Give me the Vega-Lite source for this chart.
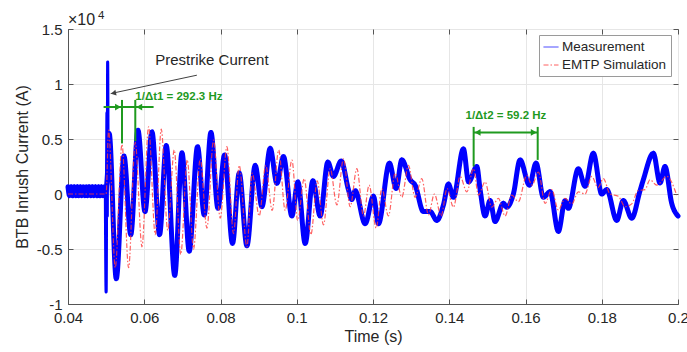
{
  "$schema": "https://vega.github.io/schema/vega-lite/v6.json",
  "width": 610,
  "height": 275,
  "autosize": {"type": "none"},
  "padding": {"left": 68, "top": 29, "right": 9, "bottom": 48},
  "background": "white",
  "config": {
    "font": "Liberation Sans",
    "view": {"stroke": "#555555", "strokeWidth": 1},
    "axis": {
      "labelFont": "Liberation Sans", "titleFont": "Liberation Sans",
      "labelFontSize": 15, "titleFontSize": 16, "labelColor": "#262626", "titleColor": "#262626",
      "titleFontWeight": "normal", "gridColor": "#e6e6e6", "gridWidth": 1,
      "domainColor": "#555555", "tickColor": "#555555"
    }
  },
  "datasets": {
    "meas": [
      {"series":"Measurement","part":"band","time":0.0400,"current":0.065},
      {"series":"Measurement","part":"band","time":0.0404,"current":-0.015},
      {"series":"Measurement","part":"band","time":0.0408,"current":0.065},
      {"series":"Measurement","part":"band","time":0.0412,"current":-0.015},
      {"series":"Measurement","part":"band","time":0.0416,"current":0.065},
      {"series":"Measurement","part":"band","time":0.0420,"current":-0.015},
      {"series":"Measurement","part":"band","time":0.0424,"current":0.065},
      {"series":"Measurement","part":"band","time":0.0428,"current":-0.015},
      {"series":"Measurement","part":"band","time":0.0432,"current":0.065},
      {"series":"Measurement","part":"band","time":0.0436,"current":-0.015},
      {"series":"Measurement","part":"band","time":0.0440,"current":0.065},
      {"series":"Measurement","part":"band","time":0.0444,"current":-0.015},
      {"series":"Measurement","part":"band","time":0.0448,"current":0.065},
      {"series":"Measurement","part":"band","time":0.0452,"current":-0.015},
      {"series":"Measurement","part":"band","time":0.0456,"current":0.065},
      {"series":"Measurement","part":"band","time":0.0460,"current":-0.015},
      {"series":"Measurement","part":"band","time":0.0464,"current":0.065},
      {"series":"Measurement","part":"band","time":0.0468,"current":-0.015},
      {"series":"Measurement","part":"band","time":0.0472,"current":0.065},
      {"series":"Measurement","part":"band","time":0.0476,"current":-0.015},
      {"series":"Measurement","part":"band","time":0.0480,"current":0.065},
      {"series":"Measurement","part":"band","time":0.0484,"current":-0.015},
      {"series":"Measurement","part":"band","time":0.0488,"current":0.065},
      {"series":"Measurement","part":"band","time":0.0492,"current":-0.015},
      {"series":"Measurement","part":"band","time":0.0496,"current":0.065},
      {"series":"Measurement","part":"band","time":0.0498,"current":0.02},
      {"series":"Measurement","part":"spike","time":0.0498,"current":0.02},
      {"series":"Measurement","part":"spike","time":0.0500,"current":-0.89},
      {"series":"Measurement","part":"spike","time":0.05022,"current":0.74},
      {"series":"Measurement","part":"spike","time":0.0503,"current":-0.2},
      {"series":"Measurement","part":"spike","time":0.0504,"current":1.2},
      {"series":"Measurement","part":"spike","time":0.05055,"current":0.15},
      {"series":"Measurement","part":"spike","time":0.05075,"current":0.5},
      {"series":"Measurement","part":"band","time":0.05075,"current":0.5},
      {"series":"Measurement","part":"band","time":0.0508,"current":0.55},
      {"series":"Measurement","part":"band","time":0.05266,"current":-0.77},
      {"series":"Measurement","part":"band","time":0.05468,"current":0.345},
      {"series":"Measurement","part":"band","time":0.05646,"current":-0.37},
      {"series":"Measurement","part":"band","time":0.05835,"current":0.58},
      {"series":"Measurement","part":"band","time":0.06019,"current":-0.16},
      {"series":"Measurement","part":"band","time":0.06202,"current":0.565},
      {"series":"Measurement","part":"band","time":0.06401,"current":-0.37},
      {"series":"Measurement","part":"band","time":0.06577,"current":0.44},
      {"series":"Measurement","part":"band","time":0.068,"current":-0.74},
      {"series":"Measurement","part":"band","time":0.06989,"current":0.375},
      {"series":"Measurement","part":"band","time":0.0718,"current":-0.52},
      {"series":"Measurement","part":"band","time":0.07398,"current":0.43},
      {"series":"Measurement","part":"band","time":0.07573,"current":-0.19},
      {"series":"Measurement","part":"band","time":0.07749,"current":0.56},
      {"series":"Measurement","part":"band","time":0.07933,"current":-0.13},
      {"series":"Measurement","part":"band","time":0.08106,"current":0.355},
      {"series":"Measurement","part":"band","time":0.08315,"current":-0.45},
      {"series":"Measurement","part":"band","time":0.08491,"current":0.19},
      {"series":"Measurement","part":"band","time":0.08693,"current":-0.47},
      {"series":"Measurement","part":"band","time":0.0891,"current":0.26},
      {"series":"Measurement","part":"band","time":0.09086,"current":-0.115},
      {"series":"Measurement","part":"band","time":0.09304,"current":0.415},
      {"series":"Measurement","part":"band","time":0.09479,"current":0.097},
      {"series":"Measurement","part":"band","time":0.09652,"current":0.34},
      {"series":"Measurement","part":"band","time":0.09872,"current":-0.2},
      {"series":"Measurement","part":"band","time":0.1003,"current":0.11},
      {"series":"Measurement","part":"band","time":0.10221,"current":-0.45},
      {"series":"Measurement","part":"band","time":0.10423,"current":0.12},
      {"series":"Measurement","part":"band","time":0.10614,"current":-0.2},
      {"series":"Measurement","part":"band","time":0.10816,"current":0.29},
      {"series":"Measurement","part":"band","time":0.10963,"current":0.16},
      {"series":"Measurement","part":"band","time":0.11165,"current":0.3},
      {"series":"Measurement","part":"band","time":0.11356,"current":0.04},
      {"series":"Measurement","part":"band","time":0.11445,"current":-0.05},
      {"series":"Measurement","part":"band","time":0.11532,"current":0.03},
      {"series":"Measurement","part":"band","time":0.11794,"current":-0.27},
      {"series":"Measurement","part":"band","time":0.12012,"current":-0.02},
      {"series":"Measurement","part":"band","time":0.12143,"current":-0.27},
      {"series":"Measurement","part":"band","time":0.12431,"current":0.28},
      {"series":"Measurement","part":"band","time":0.12607,"current":0.05},
      {"series":"Measurement","part":"band","time":0.12756,"current":0.31},
      {"series":"Measurement","part":"band","time":0.12974,"current":0.13},
      {"series":"Measurement","part":"band","time":0.13105,"current":0.08},
      {"series":"Measurement","part":"band","time":0.13322,"current":-0.16},
      {"series":"Measurement","part":"band","time":0.13498,"current":-0.16},
      {"series":"Measurement","part":"band","time":0.13674,"current":-0.24},
      {"series":"Measurement","part":"band","time":0.13847,"current":-0.1},
      {"series":"Measurement","part":"band","time":0.13978,"current":0.09},
      {"series":"Measurement","part":"band","time":0.1411,"current":-0.03},
      {"series":"Measurement","part":"band","time":0.14371,"current":0.41},
      {"series":"Measurement","part":"band","time":0.14508,"current":0.11},
      {"series":"Measurement","part":"band","time":0.14723,"current":0.25},
      {"series":"Measurement","part":"band","time":0.14809,"current":0.04},
      {"series":"Measurement","part":"band","time":0.1494,"current":-0.2},
      {"series":"Measurement","part":"band","time":0.15071,"current":-0.06},
      {"series":"Measurement","part":"band","time":0.15202,"current":-0.25},
      {"series":"Measurement","part":"band","time":0.1542,"current":-0.085},
      {"series":"Measurement","part":"band","time":0.15509,"current":-0.12},
      {"series":"Measurement","part":"band","time":0.15682,"current":0.0},
      {"series":"Measurement","part":"band","time":0.15858,"current":0.31},
      {"series":"Measurement","part":"band","time":0.16102,"current":0.08},
      {"series":"Measurement","part":"band","time":0.16277,"current":0.28},
      {"series":"Measurement","part":"band","time":0.16469,"current":-0.03},
      {"series":"Measurement","part":"band","time":0.16644,"current":0.02},
      {"series":"Measurement","part":"band","time":0.16862,"current":-0.34},
      {"series":"Measurement","part":"band","time":0.17038,"current":-0.06},
      {"series":"Measurement","part":"band","time":0.17124,"current":-0.13},
      {"series":"Measurement","part":"band","time":0.17386,"current":0.23},
      {"series":"Measurement","part":"band","time":0.17562,"current":0.07},
      {"series":"Measurement","part":"band","time":0.17779,"current":0.37},
      {"series":"Measurement","part":"band","time":0.17999,"current":0.0},
      {"series":"Measurement","part":"band","time":0.18131,"current":0.04},
      {"series":"Measurement","part":"band","time":0.18393,"current":-0.24},
      {"series":"Measurement","part":"band","time":0.18566,"current":-0.06},
      {"series":"Measurement","part":"band","time":0.18786,"current":-0.22},
      {"series":"Measurement","part":"band","time":0.19004,"current":0.03},
      {"series":"Measurement","part":"band","time":0.19091,"current":0.13},
      {"series":"Measurement","part":"band","time":0.19353,"current":0.37},
      {"series":"Measurement","part":"band","time":0.19529,"current":0.1},
      {"series":"Measurement","part":"band","time":0.19659,"current":0.25},
      {"series":"Measurement","part":"band","time":0.19835,"current":-0.085},
      {"series":"Measurement","part":"band","time":0.2,"current":-0.2}
    ],
    "sim": [
      {"series":"EMTP Simulation","part":"sim","time":0.04,"current":0.0},
      {"series":"EMTP Simulation","part":"sim","time":0.0500,"current":0.0},
      {"series":"EMTP Simulation","part":"sim","time":0.05064,"current":0.58},
      {"series":"EMTP Simulation","part":"sim","time":0.0524,"current":-0.67},
      {"series":"EMTP Simulation","part":"sim","time":0.05416,"current":0.45},
      {"series":"EMTP Simulation","part":"sim","time":0.05589,"current":-0.67},
      {"series":"EMTP Simulation","part":"sim","time":0.05764,"current":0.47},
      {"series":"EMTP Simulation","part":"sim","time":0.0594,"current":-0.48},
      {"series":"EMTP Simulation","part":"sim","time":0.06113,"current":0.61},
      {"series":"EMTP Simulation","part":"sim","time":0.06289,"current":-0.37},
      {"series":"EMTP Simulation","part":"sim","time":0.06446,"current":0.59},
      {"series":"EMTP Simulation","part":"sim","time":0.06616,"current":-0.33},
      {"series":"EMTP Simulation","part":"sim","time":0.06787,"current":0.4},
      {"series":"EMTP Simulation","part":"sim","time":0.06957,"current":-0.55},
      {"series":"EMTP Simulation","part":"sim","time":0.07128,"current":0.31},
      {"series":"EMTP Simulation","part":"sim","time":0.07293,"current":-0.5},
      {"series":"EMTP Simulation","part":"sim","time":0.07468,"current":0.32},
      {"series":"EMTP Simulation","part":"sim","time":0.07644,"current":-0.31},
      {"series":"EMTP Simulation","part":"sim","time":0.07817,"current":0.49},
      {"series":"EMTP Simulation","part":"sim","time":0.07993,"current":-0.22},
      {"series":"EMTP Simulation","part":"sim","time":0.08168,"current":0.43},
      {"series":"EMTP Simulation","part":"sim","time":0.08341,"current":-0.36},
      {"series":"EMTP Simulation","part":"sim","time":0.08491,"current":0.26},
      {"series":"EMTP Simulation","part":"sim","time":0.08693,"current":-0.48},
      {"series":"EMTP Simulation","part":"sim","time":0.08832,"current":0.19},
      {"series":"EMTP Simulation","part":"sim","time":0.09015,"current":-0.2},
      {"series":"EMTP Simulation","part":"sim","time":0.09186,"current":0.26},
      {"series":"EMTP Simulation","part":"sim","time":0.09356,"current":-0.15},
      {"series":"EMTP Simulation","part":"sim","time":0.09526,"current":0.4},
      {"series":"EMTP Simulation","part":"sim","time":0.09697,"current":-0.15},
      {"series":"EMTP Simulation","part":"sim","time":0.09872,"current":0.31},
      {"series":"EMTP Simulation","part":"sim","time":0.10025,"current":-0.24},
      {"series":"EMTP Simulation","part":"sim","time":0.10195,"current":0.14},
      {"series":"EMTP Simulation","part":"sim","time":0.10371,"current":-0.37},
      {"series":"EMTP Simulation","part":"sim","time":0.10536,"current":0.12},
      {"series":"EMTP Simulation","part":"sim","time":0.10701,"current":-0.28},
      {"series":"EMTP Simulation","part":"sim","time":0.10877,"current":0.23},
      {"series":"EMTP Simulation","part":"sim","time":0.11052,"current":-0.1},
      {"series":"EMTP Simulation","part":"sim","time":0.11225,"current":0.32},
      {"series":"EMTP Simulation","part":"sim","time":0.11401,"current":-0.115},
      {"series":"EMTP Simulation","part":"sim","time":0.11577,"current":0.23},
      {"series":"EMTP Simulation","part":"sim","time":0.1175,"current":-0.2},
      {"series":"EMTP Simulation","part":"sim","time":0.11899,"current":0.08},
      {"series":"EMTP Simulation","part":"sim","time":0.12083,"current":-0.31},
      {"series":"EMTP Simulation","part":"sim","time":0.12232,"current":0.05},
      {"series":"EMTP Simulation","part":"sim","time":0.12405,"current":-0.2},
      {"series":"EMTP Simulation","part":"sim","time":0.12581,"current":0.19},
      {"series":"EMTP Simulation","part":"sim","time":0.12756,"current":-0.03},
      {"series":"EMTP Simulation","part":"sim","time":0.12929,"current":0.26},
      {"series":"EMTP Simulation","part":"sim","time":0.13105,"current":-0.03},
      {"series":"EMTP Simulation","part":"sim","time":0.13281,"current":0.14},
      {"series":"EMTP Simulation","part":"sim","time":0.13454,"current":-0.19},
      {"series":"EMTP Simulation","part":"sim","time":0.13611,"current":0.0},
      {"series":"EMTP Simulation","part":"sim","time":0.13787,"current":-0.2},
      {"series":"EMTP Simulation","part":"sim","time":0.13944,"current":0.05},
      {"series":"EMTP Simulation","part":"sim","time":0.1411,"current":-0.12},
      {"series":"EMTP Simulation","part":"sim","time":0.14285,"current":0.16},
      {"series":"EMTP Simulation","part":"sim","time":0.14461,"current":0.02},
      {"series":"EMTP Simulation","part":"sim","time":0.14636,"current":0.23},
      {"series":"EMTP Simulation","part":"sim","time":0.14767,"current":-0.01},
      {"series":"EMTP Simulation","part":"sim","time":0.1494,"current":0.11},
      {"series":"EMTP Simulation","part":"sim","time":0.15116,"current":-0.12},
      {"series":"EMTP Simulation","part":"sim","time":0.15289,"current":-0.04},
      {"series":"EMTP Simulation","part":"sim","time":0.15465,"current":-0.2},
      {"series":"EMTP Simulation","part":"sim","time":0.1564,"current":-0.01},
      {"series":"EMTP Simulation","part":"sim","time":0.15813,"current":-0.07},
      {"series":"EMTP Simulation","part":"sim","time":0.16033,"current":0.17},
      {"series":"EMTP Simulation","part":"sim","time":0.16172,"current":0.08},
      {"series":"EMTP Simulation","part":"sim","time":0.16338,"current":0.2},
      {"series":"EMTP Simulation","part":"sim","time":0.16513,"current":-0.085},
      {"series":"EMTP Simulation","part":"sim","time":0.16689,"current":0.04},
      {"series":"EMTP Simulation","part":"sim","time":0.16862,"current":-0.145},
      {"series":"EMTP Simulation","part":"sim","time":0.17038,"current":-0.04},
      {"series":"EMTP Simulation","part":"sim","time":0.17214,"current":-0.09},
      {"series":"EMTP Simulation","part":"sim","time":0.17386,"current":0.02},
      {"series":"EMTP Simulation","part":"sim","time":0.17562,"current":0.0},
      {"series":"EMTP Simulation","part":"sim","time":0.17737,"current":0.16},
      {"series":"EMTP Simulation","part":"sim","time":0.17902,"current":0.06},
      {"series":"EMTP Simulation","part":"sim","time":0.18042,"current":0.14},
      {"series":"EMTP Simulation","part":"sim","time":0.18217,"current":0.0},
      {"series":"EMTP Simulation","part":"sim","time":0.18435,"current":-0.02},
      {"series":"EMTP Simulation","part":"sim","time":0.18611,"current":-0.115},
      {"series":"EMTP Simulation","part":"sim","time":0.18786,"current":-0.09},
      {"series":"EMTP Simulation","part":"sim","time":0.18951,"current":0.03},
      {"series":"EMTP Simulation","part":"sim","time":0.19135,"current":0.04},
      {"series":"EMTP Simulation","part":"sim","time":0.19266,"current":0.13},
      {"series":"EMTP Simulation","part":"sim","time":0.19442,"current":0.08},
      {"series":"EMTP Simulation","part":"sim","time":0.19704,"current":0.16},
      {"series":"EMTP Simulation","part":"sim","time":0.19966,"current":-0.01}
    ],
    "vlines": [
      {"time":0.05416,"current":0.855,"current2":0.46},
      {"time":0.05765,"current":0.855,"current2":0.48},
      {"time":0.1464,"current":0.61,"current2":0.25},
      {"time":0.1632,"current":0.61,"current2":0.31}
    ],
    "hlines": [
      {"time":0.04934,"time2":0.06245,"current":0.79},
      {"time":0.1464,"time2":0.1632,"current":0.56}
    ],
    "heads": [
      {"time":0.05311,"current":0.79,"dir":"right"},
      {"time":0.0587,"current":0.79,"dir":"left"},
      {"time":0.14745,"current":0.56,"dir":"left"},
      {"time":0.16215,"current":0.56,"dir":"right"}
    ]
  },
  "layer": [
    {
      "layer": [
        {
          "data": {"name": "meas"},
          "mark": {"type": "line", "interpolate": "monotone", "strokeJoin": "round", "strokeCap": "round"},
          "encoding": {
            "x": {"field": "time", "type": "quantitative",
              "scale": {"domain": [0.04, 0.2], "nice": false, "zero": false},
              "axis": {"values": [0.04, 0.06, 0.08, 0.1, 0.12, 0.14, 0.16, 0.18, 0.2], "labelExpr": "datum.value + ''", "title": "Time (s)", "grid": true, "tickSize": -5, "labelPadding": 11, "titlePadding": 3, "labelFlush": false}},
            "y": {"field": "current", "type": "quantitative",
              "scale": {"domain": [-1, 1.5], "nice": false, "zero": false},
              "axis": {"values": [-1, -0.5, 0, 0.5, 1, 1.5], "labelExpr": "datum.value + ''", "title": "BTB Inrush Current (A)", "grid": true, "tickSize": -5, "labelPadding": 11, "titlePadding": 6, "labelFlush": false}},
            "color": {"field": "series", "type": "nominal",
              "scale": {"domain": ["Measurement", "EMTP Simulation"], "range": ["#0000ff", "#ff3b3b"]},
              "legend": {"title": null, "orient": "none", "legendX": 471, "legendY": 6, "fillColor": "white", "strokeColor": "#9a9a9a", "padding": 4, "labelFont": "Liberation Sans", "labelFontSize": 13.5, "labelColor": "#262626", "symbolType": "stroke", "symbolSize": 225, "symbolStrokeWidth": 1, "symbolOpacity": 0.55, "rowPadding": 3, "labelOffset": 3}},
            "strokeDash": {"field": "series", "type": "nominal",
              "scale": {"domain": ["Measurement", "EMTP Simulation"], "range": [[1, 0], [5, 2, 1.5, 2]]}},
            "strokeWidth": {"field": "part", "type": "nominal",
              "scale": {"domain": ["band", "spike", "sim"], "range": [5, 1.2, 1.3]}, "legend": null}
          }
        },
        {
          "data": {"name": "sim"},
          "mark": {"type": "line", "interpolate": "monotone", "opacity": 0.8},
          "encoding": {
            "x": {"field": "time", "type": "quantitative"},
            "y": {"field": "current", "type": "quantitative"},
            "color": {"field": "series", "type": "nominal"},
            "strokeDash": {"field": "series", "type": "nominal"},
            "strokeWidth": {"field": "part", "type": "nominal", "legend": null}
          }
        },
        {
          "data": {"name": "vlines"},
          "mark": {"type": "rule", "color": "#1f9a1f", "strokeWidth": 2},
          "encoding": {
            "x": {"field": "time", "type": "quantitative"},
            "y": {"field": "current", "type": "quantitative"},
            "y2": {"field": "current2"}
          }
        },
        {
          "data": {"name": "hlines"},
          "mark": {"type": "rule", "color": "#1f9a1f", "strokeWidth": 2},
          "encoding": {
            "x": {"field": "time", "type": "quantitative"},
            "x2": {"field": "time2"},
            "y": {"field": "current", "type": "quantitative"}
          }
        },
        {
          "data": {"name": "heads"},
          "mark": {"type": "point", "filled": true, "color": "#1f9a1f", "size": 45, "opacity": 1},
          "encoding": {
            "x": {"field": "time", "type": "quantitative"},
            "y": {"field": "current", "type": "quantitative"},
            "shape": {"field": "dir", "type": "nominal", "scale": {"domain": ["right", "left"], "range": ["triangle-right", "triangle-left"]}, "legend": null}
          }
        },
        {
          "data": {"values": [{}]},
          "mark": {"type": "rule", "color": "#404040", "strokeWidth": 1},
          "encoding": {
            "x": {"datum": 0.0738, "type": "quantitative"},
            "y": {"datum": 1.08, "type": "quantitative"},
            "x2": {"datum": 0.0512},
            "y2": {"datum": 0.913}
          }
        },
        {
          "data": {"values": [{}]},
          "mark": {"type": "point", "shape": "triangle-left", "angle": -12, "filled": true, "color": "#404040", "size": 35, "opacity": 1},
          "encoding": {
            "x": {"datum": 0.05193, "type": "quantitative"},
            "y": {"datum": 0.916, "type": "quantitative"}
          }
        },
        {
          "data": {"values": [{}]},
          "mark": {"type": "text", "text": "Prestrike Current", "font": "Liberation Sans", "fontSize": 15, "color": "#262626", "align": "center", "baseline": "middle"},
          "encoding": {
            "x": {"datum": 0.07775, "type": "quantitative"},
            "y": {"datum": 1.218, "type": "quantitative"}
          }
        },
        {
          "data": {"values": [{}]},
          "mark": {"type": "text", "text": "1/Δt1 = 292.3 Hz", "font": "Liberation Sans", "fontSize": 11.5, "fontWeight": "bold", "color": "#1f9a1f", "align": "left", "baseline": "middle"},
          "encoding": {
            "x": {"datum": 0.05765, "type": "quantitative"},
            "y": {"datum": 0.885, "type": "quantitative"}
          }
        },
        {
          "data": {"values": [{}]},
          "mark": {"type": "text", "text": "1/Δt2 = 59.2 Hz", "font": "Liberation Sans", "fontSize": 11.5, "fontWeight": "bold", "color": "#1f9a1f", "align": "center", "baseline": "middle"},
          "encoding": {
            "x": {"datum": 0.15486, "type": "quantitative"},
            "y": {"datum": 0.71, "type": "quantitative"}
          }
        },
        {
          "data": {"values": [{}]},
          "mark": {"type": "text", "text": "×10", "font": "Liberation Sans", "fontSize": 16, "color": "#262626", "align": "left", "baseline": "alphabetic", "dy": -4},
          "encoding": {
            "x": {"datum": 0.04, "type": "quantitative"},
            "y": {"datum": 1.5, "type": "quantitative"}
          }
        },
        {
          "data": {"values": [{}]},
          "mark": {"type": "text", "text": "4", "font": "Liberation Sans", "fontSize": 11.5, "color": "#262626", "align": "left", "baseline": "alphabetic", "dx": 30, "dy": -10},
          "encoding": {
            "x": {"datum": 0.04, "type": "quantitative"},
            "y": {"datum": 1.5, "type": "quantitative"}
          }
        }
      ]
    },
    {
      "data": {"values": [{"time": 0.1, "current": 0}]},
      "mark": {"type": "point", "opacity": 0},
      "encoding": {
        "x": {"field": "time", "type": "quantitative",
          "axis": {"orient": "top", "values": [0.04, 0.06, 0.08, 0.1, 0.12, 0.14, 0.16, 0.18, 0.2], "labels": false, "grid": false, "domain": false, "title": null, "tickSize": -5}},
        "y": {"field": "current", "type": "quantitative",
          "axis": {"orient": "right", "values": [-1, -0.5, 0, 0.5, 1, 1.5], "labels": false, "grid": false, "domain": false, "title": null, "tickSize": -5}}
      }
    }
  ],
  "resolve": {"axis": {"x": "independent", "y": "independent"}}
}
